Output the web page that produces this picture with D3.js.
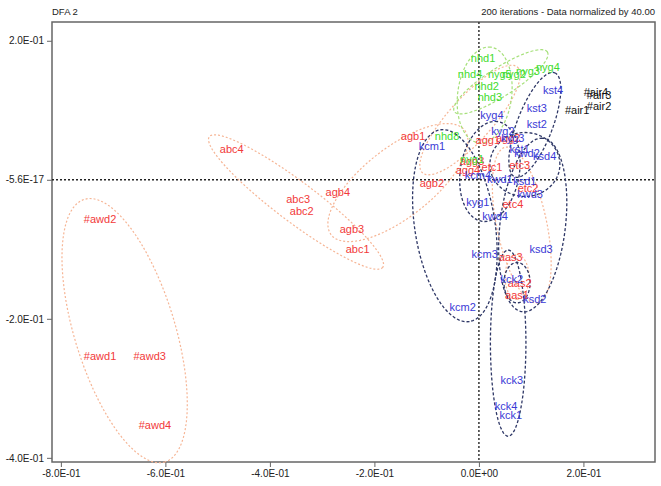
<!DOCTYPE html>
<html>
<head>
<meta charset="utf-8">
<script src="https://cdn.jsdelivr.net/npm/d3@7"></script>
<style>
  body { margin: 0; background: #fff; }
  text { font-family: "Liberation Sans Narrow", "Liberation Sans", Arial, sans-serif; }
</style>
</head>
<body>
<script>
// point labels, one array per group: [label, dfa1, dfa2]
var awd = [["#awd1", -0.725, -0.255], ["#awd2", -0.725, -0.058], ["#awd3", -0.630, -0.255], ["#awd4", -0.620, -0.355]];
var abc = [["abc1", -0.232, -0.101], ["abc2", -0.339, -0.046], ["abc3", -0.346, -0.029], ["abc4", -0.473, 0.043]];
var agb = [["agb1", -0.126, 0.062], ["agb2", -0.090, -0.006], ["agb3", -0.243, -0.072], ["agb4", -0.270, -0.019]];
var agg = [["agg1", 0.017, 0.055], ["agg2", 0.056, 0.058], ["agg3", -0.013, 0.026], ["agg4", -0.021, 0.012]];
var etc = [["etc1", 0.025, 0.017], ["etc2", 0.094, -0.014], ["etc3", 0.078, 0.020], ["etc4", 0.065, -0.036]];
var aas = [["aas1", 0.073, -0.168], ["aas2", 0.078, -0.150], ["aas3", 0.061, -0.112]];
var kcm = [["kcm1", -0.090, 0.047], ["kcm2", -0.031, -0.184], ["kcm3", 0.011, -0.108], ["kcm4", -0.002, 0.006]];
var kck = [["kck1", 0.061, -0.340], ["kck2", 0.063, -0.144], ["kck3", 0.063, -0.289], ["kck4", 0.052, -0.327]];
var ksd = [["ksd1", 0.088, -0.004], ["ksd2", 0.107, -0.173], ["ksd3", 0.119, -0.101], ["ksd4", 0.126, 0.033]];
var kst = [["kst1", 0.078, 0.043], ["kst2", 0.111, 0.079], ["kst3", 0.111, 0.102], ["kst4", 0.142, 0.128]];
var kyg = [["kyg1", -0.002, -0.033], ["kyg2", 0.046, 0.068], ["kyg3", 0.065, 0.058], ["kyg4", 0.025, 0.091]];
var kwd = [["kwd1", 0.040, 0.000], ["kwd2", 0.092, 0.037], ["kwd3", 0.098, -0.022], ["kwd4", 0.031, -0.053]];
var nhd = [["nhd1", 0.008, 0.173], ["nhd2", 0.015, 0.134], ["nhd3", 0.021, 0.118], ["nhd4", -0.017, 0.150], ["nhd8", -0.061, 0.062]];
var nyg = [["nyg1", -0.013, 0.029], ["nyg2", 0.067, 0.150], ["nyg3", 0.094, 0.155], ["nyg4", 0.132, 0.161], ["nyg5", 0.040, 0.150]];
var air = [["#air1", 0.188, 0.099], ["#air2", 0.230, 0.105], ["#air3", 0.230, 0.121], ["#air4", 0.224, 0.125]];

var redGroups = [awd, abc, agb, agg, etc, aas];
var blueGroups = [kcm, kck, ksd, kst, kyg, kwd];
var greenGroups = [nhd, nyg];
var blackGroups = [air];

// confidence ellipses: [cx, cy, ux, uy, vx, vy] (centre + two conjugate semi-axes, data units)
var orangeEllipses = [
  [-0.678, -0.217, 0.077, -0.189, -0.092, -0.021],
  [-0.350, -0.032, 0.166, -0.094, -0.023, -0.023],
  [-0.155, -0.004, 0.128, 0.075, 0.040, -0.040],
  [-0.017, 0.086, 0.091, 0.076, 0.031, -0.021],
  [0.082, -0.065, 0.031, -0.112, -0.047, -0.007],
  [0.073, -0.140, 0.000, -0.032, 0.023, 0.000]
];
var blueEllipses = [
  [-0.046, -0.066, 0.028, -0.138, -0.076, -0.009],
  [0.107, 0.079, 0.038, 0.075, 0.032, -0.009],
  [0.103, -0.065, 0.017, 0.125, 0.063, 0.000],
  [0.056, -0.235, 0.000, 0.134, 0.034, 0.000],
  [0.021, 0.012, 0.010, 0.072, 0.057, 0.000],
  [0.088, 0.022, 0.067, 0.000, 0.000, 0.046],
  [0.073, -0.148, 0.025, 0.000, 0.000, 0.029]
];
var greenEllipses = [
  [0.011, 0.122, 0.008, 0.069, 0.052, 0.000],
  [0.042, 0.141, 0.089, 0.043, 0.015, -0.017]
];

var xTicks = [-0.8, -0.6, -0.4, -0.2, 0, 0.2];
var xTickLabels = ["-8.0E-01", "-6.0E-01", "-4.0E-01", "-2.0E-01", "0.0E+00", "2.0E-01"];
var yTicks = [0.2, 0, -0.2, -0.4];
var yTickLabels = ["2.0E-01", "-5.6E-17", "-2.0E-01", "-4.0E-01"];

var svgWidth = 661;
var svgHeight = 486;
var margin = { top: 22, right: 6, bottom: 24, left: 52 };
var chartWidth = svgWidth - margin.left - margin.right;
var chartHeight = svgHeight - margin.top - margin.bottom;

var svg = d3.select('body')
    .append('svg')
    .attr('width', svgWidth)
    .attr('height', svgHeight);

var chartGroup = svg.append('g')
    .attr('transform', `translate(${margin.left},${margin.top})`);

var x = d3.scaleLinear().domain([-0.817, 0.337]).range([0, chartWidth]);
var y = d3.scaleLinear().domain([0.227, -0.406]).range([0, chartHeight]);

// frame
chartGroup.append('rect')
    .attr('width', chartWidth)
    .attr('height', chartHeight)
    .attr('fill', 'none')
    .attr('stroke', '#666')
    .attr('stroke-width', 1.5);

// axes
var xAxis = d3.axisBottom(x).tickValues(xTicks)
    .tickFormat((d, i) => xTickLabels[i]).tickSize(5).tickPadding(3);
var yAxis = d3.axisLeft(y).tickValues(yTicks)
    .tickFormat((d, i) => yTickLabels[i]).tickSize(5).tickPadding(3);

var gx = chartGroup.append('g')
    .attr('transform', `translate(0,${chartHeight})`)
    .call(xAxis);
var gy = chartGroup.append('g').call(yAxis);
[gx, gy].forEach(g => {
    g.select('.domain').remove();
    g.selectAll('line').attr('stroke', '#666');
    g.selectAll('text').attr('font-size', '10px').attr('fill', '#222')
        .style('font-family', '"Liberation Sans Narrow", "Liberation Sans", sans-serif');
});

// zero lines
chartGroup.append('line')
    .attr('x1', 0).attr('x2', chartWidth)
    .attr('y1', y(0)).attr('y2', y(0))
    .attr('stroke', '#222').attr('stroke-width', 1.5).attr('stroke-dasharray', '2,2');
chartGroup.append('line')
    .attr('x1', x(0)).attr('x2', x(0))
    .attr('y1', 0).attr('y2', chartHeight)
    .attr('stroke', '#333').attr('stroke-width', 1.5).attr('stroke-dasharray', '2,2');

// ellipses
var ellipseLine = d3.line().curve(d3.curveLinearClosed);
function ellipsePath(e) {
    var pts = d3.range(72).map(i => {
        var t = i / 72 * 2 * Math.PI;
        return [x(e[0] + e[2] * Math.cos(t) + e[4] * Math.sin(t)),
                y(e[1] + e[3] * Math.cos(t) + e[5] * Math.sin(t))];
    });
    return ellipseLine(pts);
}
function drawEllipses(list, color, dash, width) {
    chartGroup.append('g').selectAll('path')
        .data(list)
        .enter()
        .append('path')
        .attr('d', ellipsePath)
        .attr('fill', 'none')
        .attr('stroke', color)
        .attr('stroke-width', width)
        .attr('stroke-dasharray', dash);
}
drawEllipses(orangeEllipses, '#f6b595', '2,2', 1.2);
drawEllipses(greenEllipses, '#a6e07a', '3,2', 1.2);
drawEllipses(blueEllipses, '#2e3766', '3,2', 1.3);

// labels
function drawLabels(groups, color) {
    chartGroup.append('g').selectAll('text')
        .data(groups.flat())
        .enter()
        .append('text')
        .attr('x', d => x(d[1]))
        .attr('y', d => y(d[2]))
        .attr('text-anchor', 'middle')
        .attr('dominant-baseline', 'middle')
        .attr('font-size', '11px')
        .attr('fill', color)
        .text(d => d[0]);
}
drawLabels(redGroups, '#f23a3a');
drawLabels(greenGroups, '#3fdc2e');
drawLabels(blueGroups, '#3a3ad6');
drawLabels(blackGroups, '#111');

// header texts
svg.append('text')
    .attr('x', margin.left)
    .attr('y', 15)
    .attr('font-size', '9.5px')
    .attr('fill', '#222')
    .text('DFA 2');
svg.append('text')
    .attr('x', margin.left + chartWidth)
    .attr('y', 15)
    .attr('text-anchor', 'end')
    .attr('font-size', '9.5px')
    .attr('fill', '#222')
    .text('200 iterations - Data normalized by 40.00');
</script>
</body>
</html>
